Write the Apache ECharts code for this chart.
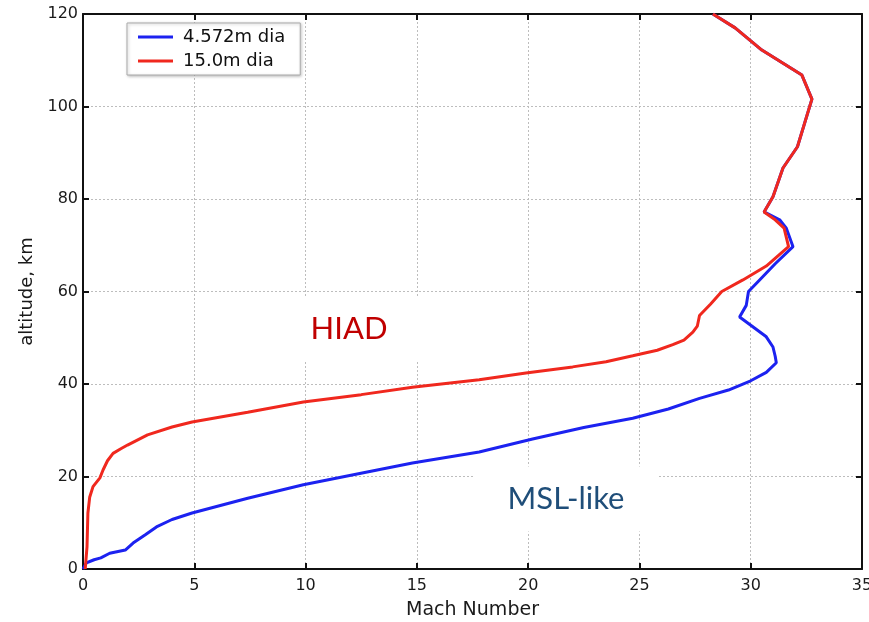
<!DOCTYPE html>
<html>
<head>
<meta charset="utf-8">
<script src="https://cdn.jsdelivr.net/npm/echarts@6/dist/echarts.min.js"></script>
<style>
  html, body { margin: 0; padding: 0; background: #fff; }
  #chart { width: 869px; height: 622px; }
</style>
</head>
<body>
<div id="chart"></div>
<script>
// 4.572m dia (blue)
var machSmall = [0, 0.15, 0.5, 0.8, 1.2, 1.9, 2.25, 2.8, 3.3, 4.0, 4.9, 7.4, 9.9, 12.6, 14.8, 17.8, 20.2, 22.5, 24.7, 26.3, 27.7, 29.0, 30.0, 30.7, 31.15, 31.1, 31.0, 30.7, 30.2, 29.5, 29.8, 29.9, 30.4, 31.1, 31.9, 31.6, 31.3, 30.6, 31.0, 31.45, 32.1, 32.75, 32.3, 30.5, 29.3, 28.3];
var altSmall  = [0, 1.3, 2.0, 2.4, 3.4, 4.1, 5.6, 7.4, 9.1, 10.7, 12.1, 15.3, 18.2, 20.8, 22.9, 25.3, 28.1, 30.6, 32.6, 34.6, 36.9, 38.7, 40.7, 42.5, 44.6, 46.0, 48.0, 50.2, 52.0, 54.5, 57.0, 60.0, 62.5, 66.0, 69.7, 73.7, 75.5, 77.2, 80.5, 86.7, 91.3, 101.6, 106.8, 112.2, 117, 120];
// 15.0m dia (red)
var machLarge = [0.1, 0.18, 0.22, 0.3, 0.45, 0.76, 0.9, 1.1, 1.35, 1.7, 2.0, 2.9, 4.0, 4.9, 7.4, 9.9, 12.5, 14.8, 17.8, 19.9, 22.0, 23.5, 24.7, 25.8, 26.5, 27.0, 27.4, 27.6, 27.7, 28.2, 28.7, 29.65, 30.7, 31.7, 31.5, 31.1, 30.6, 31.0, 31.45, 32.1, 32.75, 32.3, 30.5, 29.3, 28.3];
var altLarge  = [0, 4.8, 12.1, 15.5, 17.8, 19.7, 21.4, 23.4, 25.0, 26.0, 26.8, 29.0, 30.7, 31.8, 33.9, 36.1, 37.7, 39.3, 40.9, 42.4, 43.7, 44.8, 46.1, 47.3, 48.5, 49.5, 51.2, 52.5, 54.8, 57.3, 60.0, 62.5, 65.5, 69.7, 73.7, 75.5, 77.2, 80.5, 86.7, 91.3, 101.6, 106.8, 112.2, 117, 120];

var seriesNames = ['4.572m dia', '15.0m dia'];
var xTicks = [0, 35, 5];
var yTicks = [0, 120, 20];

function pairs(xs, ys) {
    return xs.map(function(x, i) { return [x, ys[i]]; });
}

var font = '"DejaVu Sans", Verdana, sans-serif';
var frame = { show: true, onZero: false, lineStyle: { color: '#111', width: 2 } };
var tick = { show: true, inside: true, length: 6, lineStyle: { color: '#111', width: 2 } };
var grid = { show: true, lineStyle: { color: '#bdbdbd', type: [2, 2], width: 1 } };

var chart = echarts.init(document.getElementById('chart'));
chart.setOption({
    animation: false,
    backgroundColor: '#fff',
    grid: { left: 83, right: 7, top: 14, bottom: 53, outerBoundsMode: 'none', containLabel: false },
    legend: {
        left: 127, top: 23,
        orient: 'vertical',
        icon: 'rect',
        itemWidth: 35, itemHeight: 3, itemGap: 6,
        padding: [5, 15, 5, 11],
        borderColor: '#aaa', borderWidth: 1,
        backgroundColor: '#fff',
        shadowColor: 'rgba(0,0,0,0.25)', shadowBlur: 3, shadowOffsetX: 1, shadowOffsetY: 1,
        textStyle: { fontFamily: font, fontSize: 18, color: '#111', padding: [0, 0, 0, 5] },
        data: seriesNames
    },
    xAxis: [{
        type: 'value', min: xTicks[0], max: xTicks[1], interval: xTicks[2],
        position: 'bottom',
        name: 'Mach Number', nameLocation: 'middle', nameGap: 32,
        nameTextStyle: { fontFamily: font, fontSize: 19, color: '#1a1a1a' },
        axisLine: frame, axisTick: tick, splitLine: grid,
        axisLabel: { fontFamily: font, fontSize: 16, color: '#1a1a1a', margin: 9 }
    }, {
        type: 'value', min: xTicks[0], max: xTicks[1], interval: xTicks[2],
        position: 'top',
        axisLine: frame, axisTick: tick, splitLine: { show: false },
        axisLabel: { show: false }
    }],
    yAxis: [{
        type: 'value', min: yTicks[0], max: yTicks[1], interval: yTicks[2],
        position: 'left',
        name: 'altitude, km', nameLocation: 'middle', nameGap: 47, nameRotate: 90,
        nameTextStyle: { fontFamily: font, fontSize: 18, color: '#1a1a1a' },
        axisLine: frame, axisTick: tick, splitLine: grid,
        axisLabel: { fontFamily: font, fontSize: 16, color: '#1a1a1a', margin: 5 }
    }, {
        type: 'value', min: yTicks[0], max: yTicks[1], interval: yTicks[2],
        position: 'right',
        axisLine: frame, axisTick: tick, splitLine: { show: false },
        axisLabel: { show: false }
    }],
    series: [{
        name: seriesNames[0], type: 'line', symbol: 'none',
        xAxisIndex: 0, yAxisIndex: 0,
        lineStyle: { color: '#1c22f0', width: 3 },
        itemStyle: { color: '#1c22f0' },
        data: pairs(machSmall, altSmall)
    }, {
        name: seriesNames[1], type: 'line', symbol: 'none',
        xAxisIndex: 0, yAxisIndex: 0,
        lineStyle: { color: '#f0281e', width: 3 },
        itemStyle: { color: '#f0281e' },
        data: pairs(machLarge, altLarge)
    }],
    graphic: [{
        type: 'text', x: 349, y: 329, z: 10,
        style: {
            text: 'HIAD', fill: '#c00000', font: '31px Lato, "Open Sans", sans-serif',
            align: 'center', verticalAlign: 'middle',
            backgroundColor: '#fff', padding: [17, 34]
        }
    }, {
        type: 'text', x: 566, y: 499, z: 10,
        style: {
            text: 'MSL-like', fill: '#1f4e79', font: '31px Lato, "Open Sans", sans-serif',
            align: 'center', verticalAlign: 'middle',
            backgroundColor: '#fff', padding: [17, 34]
        }
    }]
});
</script>
</body>
</html>
